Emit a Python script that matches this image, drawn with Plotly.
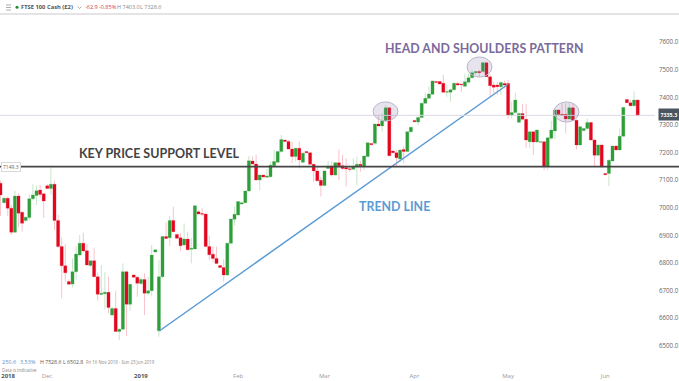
import plotly.graph_objects as go

candle_index = list(range(178))
open_ = [7089,7019,7035,6999,6912,7043,6984,6954,6965,7033,7045,7065,7051,7080,7070,7086,6954,6860,6790,6733,
 6724,6769,6829,6872,6845,6791,6809,6751,6686,6689,6694,6612,6636,6552,6560,6769,6651,6757,6749,6726,
 6741,6691,6700,6840,6555,6751,6896,6892,6954,6904,6892,6866,6887,6850,6851,6986,6980,6978,6860,6832,
 6817,6791,6784,6757,6872,6959,6974,7014,7019,7061,7170,7159,7101,7119,7111,7113,7153,7165,7204,7246,
 7241,7213,7186,7216,7165,7204,7200,7158,7134,7100,7081,7143,7152,7119,7164,7153,7146,7142,7140,7149,
 7158,7152,7186,7233,7234,7304,7297,7315,7363,7206,7200,7177,7212,7204,7276,7317,7311,7328,7379,7397,
 7412,7458,7458,7452,7419,7419,7428,7451,7449,7441,7455,7472,7490,7494,7494,7526,7475,7445,7445,7439,
 7451,7451,7336,7346,7310,7342,7321,7240,7276,7239,7238,7240,7152,7252,7279,7355,7339,7339,7322,7363,
 7318,7228,7280,7288,7309,7246,7191,7228,7125,7125,7170,7224,7210,7260,7393,7381,7370,7391]
close = [7047,7035,6999,6912,7043,6981,6944,6966,7033,7047,7062,7049,7025,7070,7086,6954,6860,6790,6765,6723,
 6769,6833,6872,6844,6793,6809,6751,6687,6691,6694,6639,6636,6552,6560,6769,6651,6723,6749,6727,6741,
 6691,6700,6829,6848,6751,6896,6889,6954,6914,6890,6863,6887,6848,6854,7008,6978,6977,6860,6830,6817,
 6799,6784,6757,6872,6960,6977,7023,7019,7061,7171,7159,7101,7119,7112,7116,7155,7168,7204,7248,7241,
 7213,7186,7216,7174,7198,7200,7158,7134,7098,7081,7134,7152,7119,7164,7153,7143,7141,7139,7149,7158,
 7153,7188,7236,7229,7304,7297,7315,7363,7189,7200,7182,7210,7204,7276,7292,7312,7328,7379,7397,7413,
 7460,7454,7449,7419,7422,7428,7452,7445,7446,7457,7472,7490,7494,7490,7526,7475,7443,7437,7439,7454,
 7445,7336,7346,7391,7342,7321,7246,7276,7239,7282,7240,7152,7254,7282,7355,7338,7335,7322,7363,7318,
 7228,7294,7288,7309,7246,7191,7228,7149,7120,7173,7224,7210,7260,7364,7381,7370,7391,7334]
high = [7098,7042,7041,7011,7062,7053,6987,6969,7049,7086,7081,7083,7053,7086,7152,7098,6975,6893,6869,6741,
 6817,6860,6902,6910,6869,6811,6854,6765,6793,6767,6751,6642,6700,6564,6799,6772,6726,6759,6752,6747,
 6763,6751,6866,6850,6811,6898,6948,6971,7005,6908,6908,6944,6914,6892,7010,6993,6999,6980,6900,6860,
 6860,6793,6814,6874,6962,7005,7025,7023,7065,7188,7186,7192,7121,7121,7141,7168,7210,7207,7264,7248,
 7246,7240,7218,7240,7204,7206,7202,7160,7152,7113,7136,7170,7168,7166,7212,7192,7180,7150,7180,7186,
 7170,7190,7238,7235,7306,7337,7343,7373,7365,7208,7210,7212,7224,7278,7294,7319,7330,7381,7418,7440,
 7462,7460,7460,7482,7446,7430,7454,7456,7451,7487,7487,7500,7496,7500,7530,7530,7484,7457,7457,7457,
 7461,7463,7385,7417,7346,7376,7376,7276,7276,7284,7242,7242,7256,7316,7357,7357,7379,7379,7379,7379,
 7320,7298,7290,7324,7312,7250,7230,7234,7127,7175,7226,7228,7288,7366,7395,7391,7423,7393]
low = [6971,7016,6971,6902,6912,6932,6914,6950,6956,7029,7011,7035,6963,7068,7047,6920,6855,6672,6733,6721,
 6712,6741,6823,6841,6791,6787,6749,6664,6684,6633,6618,6608,6552,6521,6560,6536,6627,6745,6678,6721,
 6612,6684,6679,6838,6534,6745,6888,6862,6912,6888,6844,6860,6846,6799,6850,6977,6971,6858,6811,6802,
 6797,6782,6733,6753,6870,6936,6972,7012,7016,7059,7158,7099,7065,7110,7110,7111,7151,7162,7200,7240,
 7210,7162,7168,7143,7162,7198,7155,7095,7096,7041,7079,7141,7113,7117,7101,7137,7077,7131,7137,7083,
 7131,7137,7184,7227,7228,7295,7276,7313,7187,7198,7149,7168,7162,7202,7274,7310,7300,7326,7379,7395,
 7410,7452,7447,7416,7403,7385,7426,7443,7421,7437,7451,7469,7484,7475,7490,7475,7403,7415,7409,7409,
 7433,7324,7324,7342,7306,7318,7218,7216,7191,7237,7236,7137,7137,7246,7248,7334,7333,7270,7320,7316,
 7212,7226,7277,7284,7244,7152,7189,7147,7118,7079,7168,7208,7208,7258,7379,7368,7368,7333]

y_ticks = [6500,6600,6700,6800,6900,7000,7100,7200,7300,7400,7500,7600]
x_tick_positions = [2.1,12.9,39,66,90,115,141,168]
x_tick_labels = ["2018","Dec","2019","Feb","Mar","Apr","May","Jun"]
x_tick_is_year = [True,False,True,False,False,False,False,False]
support_level = 7149.3
last_price = 7335.3
trend_x = [44.1, 141]
trend_y = [6554, 7448]
ellipses = [(103.5,110.4,7315,7384),(129.6,136.5,7474,7547),(153.75,160.7,7311,7384)]

W, H = 679, 381
PLOT_R, PLOT_B = 655, 371
def px(x): return x/PLOT_R
def py(y): return 1-y/PLOT_B

GREEN, RED = "#2f9e3a", "#e2061f"
LGREEN, LRED = "#b9dfbc", "#f6b4bc"

fig = go.Figure()
ohlc = dict(x=candle_index, open=open_, high=high, low=low, close=close, hoverinfo="skip", showlegend=False)
fig.add_trace(go.Candlestick(**ohlc, whiskerwidth=0,
    increasing=dict(line=dict(color=LGREEN,width=0.8), fillcolor=LGREEN),
    decreasing=dict(line=dict(color=LRED,width=0.8), fillcolor=LRED)))
fig.add_trace(go.Candlestick(**ohlc, whiskerwidth=0,
    increasing=dict(line=dict(color=GREEN,width=0), fillcolor=GREEN),
    decreasing=dict(line=dict(color=RED,width=0), fillcolor=RED)))
fig.add_trace(go.Scatter(x=trend_x, y=trend_y, mode="lines", line=dict(color="#5b9bd5",width=1.5),
    hoverinfo="skip", showlegend=False))

shapes = [
    dict(type="line",xref="paper",yref="paper",x0=0,x1=px(W),y0=py(14),y1=py(14),line=dict(color="#e4e4e6",width=2)),
    dict(type="line",xref="paper",yref="y",x0=0,x1=1,y0=last_price,y1=last_price,line=dict(color="#d9d9e4",width=1)),
    dict(type="line",xref="paper",yref="y",x0=0,x1=px(W),y0=support_level,y1=support_level,line=dict(color="#454545",width=1.8)),
]
for x0,x1,y0,y1 in ellipses:
    shapes.append(dict(type="circle",xref="x",yref="y",x0=x0,x1=x1,y0=y0,y1=y1,
        fillcolor="rgba(120,105,160,0.18)",line=dict(color="#b9b5c8",width=1),layer="above"))
for y in (5,7.5,10):
    shapes.append(dict(type="line",xref="paper",yref="paper",x0=px(6),x1=px(11),y0=py(y),y1=py(y),line=dict(color="#999999",width=0.8)))
shapes.append(dict(type="circle",xref="paper",yref="paper",x0=px(15.5),x1=px(18.5),y0=py(8.8),y1=py(5.8),
    fillcolor="#1f8f2a",line=dict(width=0)))
shapes.append(dict(type="path",xref="paper",yref="paper",
    path=f"M {px(77.5)} {py(6.5)} L {px(79.5)} {py(8.5)} L {px(81.5)} {py(6.5)}",line=dict(color="#999999",width=0.8)))

def label(text,x,y,size,color,anchor="left",family="Lato",**kw):
    return dict(text=text,xref="paper",yref="paper",x=px(x),y=py(y),xanchor=anchor,yanchor="middle",
        showarrow=False,font=dict(family=family,size=size,color=color),**kw)

anns = [
    label("<b>KEY PRICE SUPPORT LEVEL</b>",77,153,12.5,"#444444"),
    label("<b>HEAD AND SHOULDERS PATTERN</b>",383,48,12.4,"#7a6a9c"),
    label("<b>TREND LINE</b>",357,206,12.4,"#5b9bd5"),
    label("<b>FTSE 100 Cash (£2)</b>",19,7,5.8,"#555555",family="Open Sans"),
    label("-62.9",83,7,5.5,"#d8384a",family="Open Sans"),
    label("-0.85%",97,7,5.5,"#d8384a",family="Open Sans"),
    label("H 7403.0",115,7,5.5,"#888888",family="Open Sans"),
    label("L 7328.6",138,7,5.5,"#888888",family="Open Sans"),
    label("250.6",0,362,5.5,"#5b8fc9",family="Open Sans"),
    label("3.53%",18,362,5.5,"#5b8fc9",family="Open Sans"),
    label("H 7528.6",38,362,5.2,"#555555",family="Open Sans"),
    label("L 6502.8",61,362,5.2,"#555555",family="Open Sans"),
    label("Fri 16 Nov 2018 - Sun 23 Jun 2019",84,362,4.4,"#888888",family="Open Sans"),
    label("Data is indicative",0,370,4.4,"#888888",family="Open Sans"),
    label("7149.3",1,167,5,"#666666",family="Open Sans",bgcolor="#ffffff",bordercolor="#d8d8d8",borderwidth=1,borderpad=1),
    label("<b>7335.3</b>",657.5,115,5.3,"#ffffff",family="Open Sans",bgcolor="#4a5560",borderpad=1.5),
]

ticktext = [f"<b>{t}</b>" if yr else f"<span style='color:#999999'>{t}</span>" for t,yr in zip(x_tick_labels,x_tick_is_year)]

fig.update_layout(
    width=W,height=H,margin=dict(l=0,r=W-PLOT_R,t=0,b=H-PLOT_B,pad=0),autosize=False,
    paper_bgcolor="#ffffff",plot_bgcolor="#ffffff",boxgap=0.15,boxgroupgap=0,showlegend=False,
    shapes=shapes,annotations=anns,
    xaxis=dict(range=[(0-0.5)/3.6,(PLOT_R-0.5)/3.6],rangeslider=dict(visible=False),showgrid=False,zeroline=False,
        tickmode="array",tickvals=x_tick_positions,ticktext=ticktext,ticks="",
        tickfont=dict(family="Open Sans",size=6,color="#555555"),fixedrange=True,showline=False),
    yaxis=dict(range=[7600-(PLOT_B-42.3)*3.623,7600+42.3*3.623],side="right",showgrid=False,zeroline=False,
        tickmode="array",tickvals=y_ticks,ticktext=[f"{v:.1f}" for v in y_ticks],ticks="",ticklabelstandoff=3,
        tickfont=dict(family="Open Sans",size=6.2,color="#666666"),fixedrange=True,showline=False),
)
fig.write_html("out.html",config=dict(displayModeBar=False),
    post_script="document.body.style.margin='0';document.documentElement.style.overflow='hidden';")
